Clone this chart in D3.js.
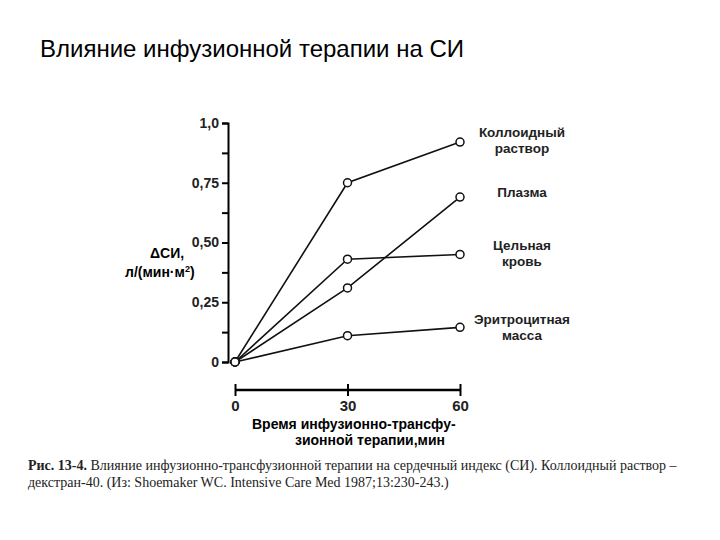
<!DOCTYPE html>
<html><head><meta charset="utf-8">
<script src="https://cdn.jsdelivr.net/npm/d3@7"></script>
<style>body{margin:0;background:#fff}</style>
</head><body>
<svg id="c" width="720" height="540"></svg>
<script>
const times = [0, 30, 60];
const seriesNames = [["Коллоидный", "раствор"], ["Плазма"], ["Цельная", "кровь"], ["Эритроцитная", "масса"]];
const colloid = [0, 0.75, 0.92];
const plasma = [0, 0.31, 0.69];
const blood = [0, 0.43, 0.45];
const rbc = [0, 0.11, 0.145];
const yTicks = [0, 0.25, 0.5, 0.75, 1.0];
const yTickLabels = ["0", "0,25", "0,50", "0,75", "1,0"];
const labelY = [0.94, 0.69, 0.47, 0.16];

const svg = d3.select("#c");
const x = d3.scaleLinear().domain([0, 60]).range([235, 460]);
const y = d3.scaleLinear().domain([0, 1]).range([362, 123]);
const font = "Liberation Sans, Arial, sans-serif";

svg.append("text").attr("x", 40).attr("y", 57).attr("font-family", font)
  .attr("font-size", 24).text("Влияние инфузионной терапии на СИ");

// y axis
const ya = svg.append("g").attr("transform", "translate(228,0)")
  .call(d3.axisLeft(y).tickValues(d3.range(0, 1.001, 0.125)).tickSize(6)
    .tickFormat(d => { const i = yTicks.indexOf(d); return i >= 0 ? yTickLabels[i] : ""; }));
ya.select(".domain").attr("stroke-width", 2);
ya.selectAll("line").attr("stroke-width", 2);
ya.selectAll("text").attr("font-family", font).attr("font-size", 14).attr("font-weight", "bold").attr("fill", "#222");

// x axis
const xa = svg.append("g").attr("transform", "translate(0,390)")
  .call(d3.axisTop(x).tickValues(times).tickSize(-10).tickSizeOuter(0));
xa.select(".domain").attr("stroke-width", 2.5).attr("d", `M${x(0)},0H${x(60)}`);
xa.selectAll("line").attr("stroke-width", 2).attr("y1", 6).attr("y2", -6);
xa.selectAll("text").attr("font-family", font).attr("font-size", 15).attr("font-weight", "bold")
  .attr("fill", "#222").attr("y", 21);

svg.append("text").attr("x", 150).attr("y", 258).attr("font-family", font).attr("font-size", 14)
  .attr("font-weight", "bold").text("ΔСИ,");
const ylab = svg.append("text").attr("x", 125).attr("y", 277).attr("font-family", font).attr("font-size", 14)
  .attr("font-weight", "bold").text("л/(мин·м");
ylab.append("tspan").attr("dy", -5).attr("font-size", 9).text("2");
ylab.append("tspan").attr("dy", 5).text(")");

svg.append("text").attr("x", 252).attr("y", 429).attr("font-family", font).attr("font-size", 14)
  .attr("font-weight", "bold").text("Время инфузионно-трансфу-");
svg.append("text").attr("x", 295).attr("y", 445).attr("font-family", font).attr("font-size", 14)
  .attr("font-weight", "bold").text("зионной терапии,мин");

const line = d3.line().x((d, i) => x(times[i])).y(d => y(d));
[colloid, plasma, blood, rbc].forEach((s, k) => {
  svg.append("path").attr("d", line(s)).attr("fill", "none").attr("stroke", "#111").attr("stroke-width", 1.6);
  svg.selectAll(null).data(s).enter().append("circle")
    .attr("cx", (d, i) => x(times[i])).attr("cy", d => y(d)).attr("r", 4)
    .attr("fill", "#fff").attr("stroke", "#111").attr("stroke-width", 1.5);
  const t = svg.append("text").attr("x", 522).attr("y", y(labelY[k])).attr("font-family", font)
    .attr("font-size", 13.5).attr("font-weight", "bold").attr("text-anchor", "middle").attr("fill", "#222");
  seriesNames[k].forEach((n, j) => t.append("tspan").attr("x", 522).attr("dy", j ? 16 : 0).text(n));
});

const cap = svg.append("g").attr("font-family", "Liberation Serif, serif").attr("font-size", 14).attr("fill", "#222");
const c1 = cap.append("text").attr("x", 28).attr("y", 470);
c1.append("tspan").attr("font-weight", "bold").text("Рис. 13-4.");
c1.append("tspan").text(" Влияние инфузионно-трансфузионной терапии на сердечный индекс (СИ). Коллоидный раствор –");
cap.append("text").attr("x", 28).attr("y", 487).text("декстран-40. (Из: Shoemaker WC. Intensive Care Med 1987;13:230-243.)");
</script>
</body></html>
